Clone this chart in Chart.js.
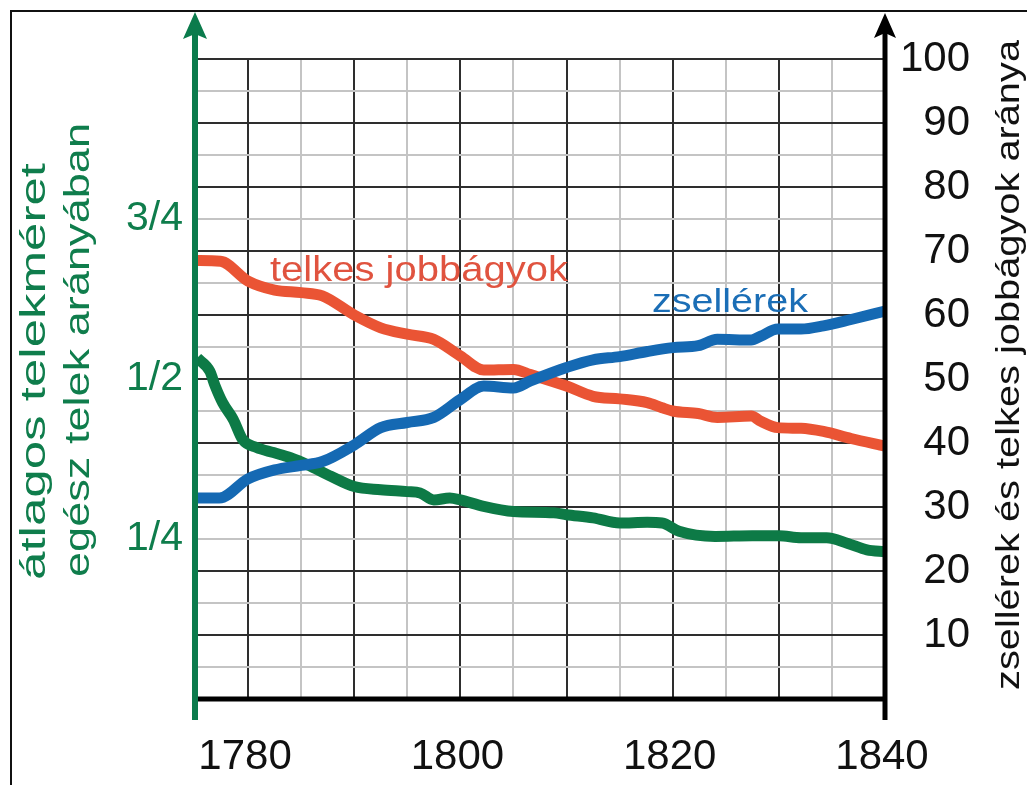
<!DOCTYPE html>
<html>
<head>
<meta charset="utf-8">
<script src="https://cdn.jsdelivr.net/npm/chart.js@4.4.1/dist/chart.umd.min.js"></script>
<style>
  html, body { margin: 0; padding: 0; background: #ffffff; }
  canvas { display: block; }
</style>
</head>
<body>
<canvas id="c" width="1027" height="785"></canvas>
<script>
// ---- data ----
const telkesYears = [1775.2, 1777.4, 1780, 1782.5, 1785, 1787, 1790, 1792.5, 1795, 1797.5, 1800, 1802.2, 1805, 1806.6, 1810, 1812.5, 1815, 1817.6, 1819, 1820, 1822.4, 1824.2, 1827.4, 1828.3, 1829.9, 1832.1, 1834.2, 1836.8, 1840];
const telkesValues = [68.5, 68.4, 65.3, 63.9, 63.5, 63, 60, 58, 57, 56.2, 53.6, 51.4, 51.5, 50.7, 48.9, 47.3, 46.9, 46.3, 45.5, 45, 44.6, 44, 44.2, 43.4, 42.4, 42.3, 41.8, 40.7, 39.5];

const zsellerYears = [1775.2, 1777.3, 1780, 1782.5, 1785, 1787, 1790, 1792.5, 1795, 1797.5, 1800, 1802.2, 1805, 1806.6, 1810, 1812.5, 1815, 1817.6, 1820, 1822.4, 1824.2, 1827.4, 1828.3, 1829.9, 1832.1, 1834.2, 1836.8, 1840];
const zsellerValues = [31.4, 31.4, 34.4, 35.8, 36.5, 37.1, 39.7, 42.4, 43.2, 44, 46.8, 48.9, 48.6, 49.7, 51.8, 53, 53.5, 54.3, 54.9, 55.2, 56.2, 56.1, 56.7, 57.8, 57.8, 58.3, 59.3, 60.6];

// average plot size as share of a whole plot (x100, so 25 = 1/4)
const telekYears = [1775.2, 1776.4, 1776.9, 1777.6, 1778.6, 1779.5, 1780.8, 1782.4, 1784, 1785.6, 1787.8, 1790, 1792.5, 1795, 1796.2, 1797.5, 1799, 1800, 1802.2, 1805, 1808.8, 1810, 1812.5, 1815, 1817.6, 1819, 1820.6, 1824, 1827.5, 1830, 1832.1, 1834.5, 1836.5, 1838.3, 1840];
const telekValues = [53.3, 51.2, 48.9, 46.3, 43.7, 40.5, 39.3, 38.5, 37.7, 36.6, 34.8, 33.2, 32.7, 32.4, 32.2, 31.1, 31.4, 31.1, 30.1, 29.3, 29.1, 28.8, 28.3, 27.5, 27.6, 27.5, 26.2, 25.4, 25.5, 25.5, 25.2, 25.2, 24.3, 23.3, 23];

const xLabelYears = [1780, 1800, 1820, 1840];
const rightTickValues = [10, 20, 30, 40, 50, 60, 70, 80, 90, 100];
const leftTickValues = [25, 50, 75];
const leftTickLabels = ['1/4', '1/2', '3/4'];

const seriesNames = ['zsellérek', 'átlagos telekméret', 'telkes jobbágyok'];
const leftTitleLines = ['átlagos telekméret', 'egész telek arányában'];
const rightTitle = 'zsellérek és telkes jobbágyok aránya';

// ---- styles ----
const RED = '#ea5434';
const RED_TEXT = '#e0533f';
const BLUE = '#1569b3';
const BLUE_TEXT = '#1b6eb6';
const GREEN = '#0d7a46';
const GREEN_AXIS = '#0b7b4c';
const GREEN_TEXT = '#0f7d4c';
const FONT = '"Liberation Sans", Arial, Helvetica, sans-serif';

function toPoints(xs, ys) { return xs.map((x, i) => ({ x: x, y: ys[i] })); }

function drawFitText(ctx, text, x, y, size, width, color, rot) {
  ctx.save();
  ctx.font = size + 'px ' + FONT;
  ctx.fillStyle = color;
  ctx.textAlign = 'left';
  ctx.textBaseline = 'alphabetic';
  ctx.translate(x, y);
  if (rot) ctx.rotate(rot);
  const w = ctx.measureText(text).width;
  ctx.scale(width / w, 1);
  ctx.fillText(text, 0, 0);
  ctx.restore();
}

const decorPlugin = {
  id: 'decor',
  afterDatasetsDraw(chart) {
    const ctx = chart.ctx;
    const x = chart.scales.x;
    const yR = chart.scales.yR;
    const left = x.getPixelForValue(1775);
    const right = x.getPixelForValue(1840);
    const bottom = yR.getPixelForValue(0);

    ctx.save();
    // frame
    ctx.strokeStyle = '#111111';
    ctx.lineWidth = 2;
    ctx.beginPath();
    ctx.moveTo(11, 786); ctx.lineTo(11, 11); ctx.lineTo(1030, 11);
    ctx.stroke();

    // bottom axis
    ctx.strokeStyle = '#000000';
    ctx.lineWidth = 5;
    ctx.beginPath();
    ctx.moveTo(left, bottom); ctx.lineTo(right, bottom);
    ctx.stroke();

    // right black axis with arrow
    ctx.lineWidth = 5;
    ctx.beginPath();
    ctx.moveTo(right, 30); ctx.lineTo(right, 720);
    ctx.stroke();
    ctx.fillStyle = '#000000';
    ctx.beginPath();
    ctx.moveTo(right, 13); ctx.lineTo(right + 11, 38); ctx.lineTo(right, 33); ctx.lineTo(right - 11, 38);
    ctx.closePath(); ctx.fill();

    // left green axis with arrow
    ctx.strokeStyle = GREEN_AXIS;
    ctx.lineWidth = 6;
    ctx.beginPath();
    ctx.moveTo(left, 30); ctx.lineTo(left, 720);
    ctx.stroke();
    ctx.fillStyle = GREEN_AXIS;
    ctx.beginPath();
    ctx.moveTo(left, 12); ctx.lineTo(left + 12, 39); ctx.lineTo(left, 34); ctx.lineTo(left - 12, 39);
    ctx.closePath(); ctx.fill();
    ctx.restore();

    // series labels
    drawFitText(ctx, seriesNames[2], 270, 281, 35, 298, RED_TEXT, 0);
    drawFitText(ctx, seriesNames[0], 652, 312, 34, 156, BLUE_TEXT, 0);

    // axis titles
    drawFitText(ctx, leftTitleLines[0], 45, 580, 35, 417, GREEN_TEXT, -Math.PI / 2);
    drawFitText(ctx, leftTitleLines[1], 89, 577, 35, 454, GREEN_TEXT, -Math.PI / 2);
    drawFitText(ctx, rightTitle, 1019, 690, 33, 650, '#111111', -Math.PI / 2);
  }
};

function lineDataset(label, xs, ys, axis, color) {
  return {
    label: label,
    data: toPoints(xs, ys),
    yAxisID: axis,
    borderColor: color,
    borderWidth: 11,
    borderJoinStyle: 'round',
    pointRadius: 0,
    cubicInterpolationMode: 'monotone',
    fill: false
  };
}

new Chart(document.getElementById('c'), {
  type: 'line',
  data: {
    datasets: [
      lineDataset(seriesNames[0], zsellerYears, zsellerValues, 'yR', BLUE),
      lineDataset(seriesNames[1], telekYears, telekValues, 'yL', GREEN),
      lineDataset(seriesNames[2], telkesYears, telkesValues, 'yR', RED)
    ]
  },
  options: {
    responsive: false,
    animation: false,
    events: [],
    layout: { padding: { top: 59, right: 57, left: 0, bottom: 0 } },
    plugins: { legend: { display: false }, tooltip: { enabled: false }, title: { display: false } },
    scales: {
      x: {
        type: 'linear',
        position: 'bottom',
        min: 1775,
        max: 1840,
        afterFit(s) { s.height = 86; },
        ticks: {
          stepSize: 5,
          autoSkip: false,
          maxRotation: 0,
          minRotation: 0,
          padding: 33,
          labelOffset: -3,
          color: '#111111',
          font: { family: FONT, size: 42 },
          callback(v) { return xLabelYears.includes(v) ? String(v) : ''; }
        },
        grid: {
          drawTicks: false,
          lineWidth: 2,
          color(c) {
            const v = c.tick && c.tick.value;
            if (v === 1775 || v === 1840) return 'rgba(0,0,0,0)';
            return v % 10 === 0 ? '#2e2e2e' : '#c4c4c4';
          }
        },
        border: { display: false }
      },
      yL: {
        type: 'linear',
        position: 'left',
        min: 0,
        max: 100,
        afterFit(s) { s.width = 195; },
        afterBuildTicks(s) { s.ticks = leftTickValues.map(v => ({ value: v })); },
        ticks: {
          autoSkip: false,
          padding: 12,
          color: GREEN_TEXT,
          font: { family: FONT, size: 41 },
          callback(v) { const i = leftTickValues.indexOf(v); return i >= 0 ? leftTickLabels[i] : ''; }
        },
        grid: { display: false, drawTicks: false },
        border: { display: false }
      },
      yR: {
        type: 'linear',
        position: 'right',
        min: 0,
        max: 100,
        afterFit(s) { s.width = 85; },
        ticks: {
          stepSize: 5,
          autoSkip: false,
          crossAlign: 'far',
          padding: 0,
          color: '#111111',
          font: { family: FONT, size: 42 },
          callback(v) { return rightTickValues.includes(v) ? String(v) : ''; }
        },
        grid: {
          drawTicks: false,
          lineWidth: 2,
          color(c) {
            const v = c.tick && c.tick.value;
            if (v === 0) return 'rgba(0,0,0,0)';
            return v % 10 === 0 ? '#2e2e2e' : '#c4c4c4';
          }
        },
        border: { display: false }
      }
    }
  },
  plugins: [decorPlugin]
});
</script>
</body>
</html>
